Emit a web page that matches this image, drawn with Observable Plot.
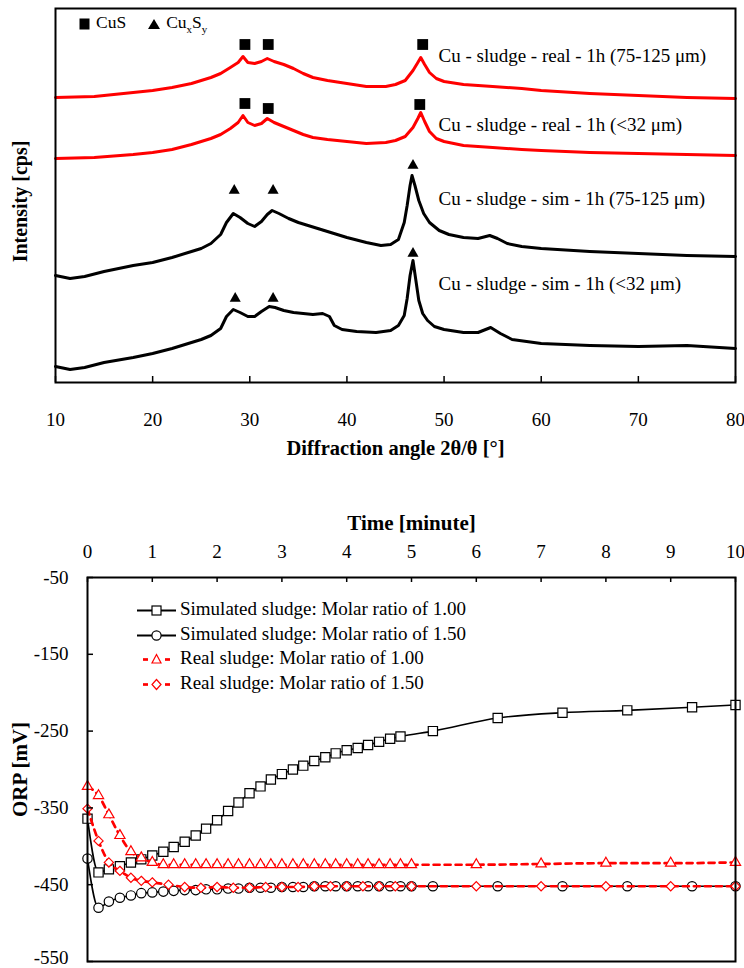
<!DOCTYPE html>
<html><head><meta charset="utf-8">
<script src="https://cdn.jsdelivr.net/npm/d3@7"></script>
<script src="https://cdn.jsdelivr.net/npm/@observablehq/plot@0.6"></script>
<style>
html,body{margin:0;padding:0;background:#fff;overflow:hidden;font-family:'Liberation Serif';}
#wrap{position:relative;width:744px;height:968px;font-family:'Liberation Serif';color:#000;}
#xrd{position:absolute;left:0;top:0;}
#orp{position:absolute;left:0;top:495px;}
.lg{position:absolute;white-space:nowrap;font-family:'Liberation Serif';}
.lg svg{vertical-align:middle;}
svg text{font-family:'Liberation Serif';}
</style></head><body>
<div id="wrap">
  <div id="xrd"></div>
  <div id="orp"></div>
  <div class="lg" id="xrdLegend" style="left:79px;top:12px;font-size:17.5px"></div>
  <div class="lg" id="orpLegend" style="left:137px;top:597px;font-size:19px"></div>
</div>
<script>
// ---------------- XRD data (intensity in arbitrary, offset units) ----------------
const xrdTicks = [10, 20, 30, 40, 50, 60, 70, 80];
const xrdSeriesNames = [
  "Cu - sludge - real - 1h (75-125 \u03bcm)",
  "Cu - sludge - real - 1h (<32 \u03bcm)",
  "Cu - sludge - sim - 1h (75-125 \u03bcm)",
  "Cu - sludge - sim - 1h (<32 \u03bcm)"
];
const realAngle = [10,14,18,20,22,24,25,26,27,28,28.8,29.3,29.8,30.5,31.2,31.8,32.5,33.5,34.5,35.5,36.5,38,40,42,44,45,46,46.8,47.3,47.6,48,48.5,49.2,50,52,55,58,60,65,70,75,80];
const realCoarseCps = [285,286,290,292,295,299,302,305,309,315,320,326,320,319,321,324,321,318,314,309,305,302,299,296,296,298,302,312,320,325,318,310,304,301,298,296,294,292,289,287,285,284];
const realFineCps = [224,225,228,230,233,238,241,244,248,254,260,267,260,257,259,264,260,256,252,248,245,243,241,239,240,242,246,255,264,270,261,251,244,241,237,235,233,232,230,229,228,227];
const simCoarseAngle = [10,11.5,13,15,18,20,22,24,25,26,27,27.6,28.3,29,29.8,30.5,31.2,31.8,32.3,33,34,35,36,37,38,40,42,43.5,44.5,45.3,45.9,46.2,46.5,46.7,47,47.4,47.9,48.5,49.5,50.5,52,53.5,54.7,55.5,56.5,58,60,65,70,75,80];
const simCoarseCps = [107,104,106,111,117,120,125,131,134,139,148,160,169,165,159,156,161,168,172,169,164,160,157,154,151,145,140,137,138,143,160,177,197,207,197,182,169,160,152,148,145,144,147,144,139,136,134,131,129,127,126];
const simFineAngle = [10,11.5,13,15,18,20,22,24,25,26,27,27.6,28.3,29,29.8,30.5,31.2,32,32.6,33.5,34.5,35.5,36.5,37.5,38.2,38.7,39.5,41,43,44.5,45.3,45.9,46.2,46.5,46.8,47.1,47.4,47.8,48.3,49,50,52,53.5,54.8,55.8,57,60,65,70,75,80];
const simFineCps = [16,13,15,20,25,29,34,40,43,47,54,66,73,70,66,66,71,76,75,72,70,69,68,69,66,57,53,51,50,52,57,67,84,107,122,102,82,69,62,56,53,50,50,55,49,43,39,37,36,37,34];
// phase markers
const cusAngle = [29.5, 31.9, 47.8, 29.5, 31.9, 47.5];
const cusLevel = [338, 338, 338, 279, 274, 278];
const cuxsyAngle = [28.4, 32.4, 46.8, 28.5, 32.4, 46.8];
const cuxsyLevel = [192, 192, 217, 84, 84, 129];

// ---------------- ORP data ----------------
const timeTicks = [0,1,2,3,4,5,6,7,8,9,10];
const orpTicks = [-50,-150,-250,-350,-450,-550];
const orpLegendLabels = [
  "Simulated sludge: Molar ratio of 1.00",
  "Simulated sludge: Molar ratio of 1.50",
  "Real sludge: Molar ratio of 1.00",
  "Real sludge: Molar ratio of 1.50"
];
const sqTime = [0,0.17,0.33,0.5,0.67,0.83,1,1.17,1.33,1.5,1.67,1.83,2,2.17,2.33,2.5,2.67,2.83,3,3.17,3.33,3.5,3.67,3.83,4,4.17,4.33,4.5,4.67,4.83,5.33,6.33,7.33,8.33,9.33,10];
const sqORP = [-364,-434,-430,-426,-421,-417,-412,-407,-401,-394,-386,-377,-366,-354,-343,-331,-322,-313,-306,-300,-295,-289,-284,-279,-275,-272,-268,-264,-260,-257,-250,-233,-226,-223,-219,-216];
const ciTime = [0,0.17,0.33,0.5,0.67,0.83,1,1.17,1.33,1.5,1.67,1.83,2,2.17,2.33,2.5,2.67,2.83,3,3.17,3.33,3.5,3.67,3.83,4,4.17,4.33,4.5,4.67,4.83,5,5.33,6.33,7.33,8.33,9.33,10];
const ciORP = [-416,-480,-472,-467,-464,-461,-460,-459,-458,-457,-457,-456,-456,-455,-455,-454,-454,-454,-453,-453,-453,-452,-452,-452,-452,-452,-452,-452,-452,-452,-452,-452,-452,-452,-452,-452,-452];
const trTime = [0,0.17,0.33,0.5,0.67,0.83,1,1.17,1.33,1.5,1.67,1.83,2,2.17,2.33,2.5,2.67,2.83,3,3.17,3.33,3.5,3.67,3.83,4,4.17,4.33,4.5,4.67,4.83,5,6,7,8,9,10];
const trORP = [-322,-334,-359,-386,-407,-415,-421,-424,-424,-424,-424,-424,-424,-424,-424,-424,-424,-424,-424,-424,-424,-424,-424,-424,-424,-424,-424,-424,-424,-424,-424,-424,-423,-422,-422,-421];
const diTime = [0,0.17,0.33,0.5,0.67,0.83,1,1.25,1.5,1.75,2,2.25,2.5,2.75,3,3.25,3.5,3.75,4,4.25,4.5,4.75,5,6,7,8,9,10];
const diORP = [-351,-393,-421,-432,-441,-445,-447,-450,-453,-454,-453,-454,-454,-453,-453,-453,-452,-452,-452,-452,-452,-452,-452,-452,-452,-452,-452,-452];

// ---------------- helpers ----------------
const FONT = "'Liberation Serif'";
const RED = "#ff0000";
const zip = (xs, ys, kx, ky) => xs.map((x, i) => ({[kx]: x, [ky]: ys[i]}));
const diamond = {draw(ctx, size) { const r = Math.sqrt(size / Math.PI); ctx.moveTo(0, -r); ctx.lineTo(r, 0); ctx.lineTo(0, r); ctx.lineTo(-r, 0); ctx.closePath(); }};

// ---------------- chart 1: XRD ----------------
const xrdRows = [
  {c: RED, d: zip(realAngle, realCoarseCps, "a", "v")},
  {c: RED, d: zip(realAngle, realFineCps, "a", "v")},
  {c: "#000", d: zip(simCoarseAngle, simCoarseCps, "a", "v")},
  {c: "#000", d: zip(simFineAngle, simFineCps, "a", "v")}
];
const labelDy = [47, 116, 190, 275];
const xrd = Plot.plot({
  width: 744, height: 470,
  marginLeft: 55, marginRight: 9, marginTop: 8, marginBottom: 88,
  style: {fontFamily: FONT, fontSize: "19px", color: "#000", background: "transparent", overflow: "visible"},
  x: {domain: [10, 80]},
  y: {domain: [0, 374], axis: null},
  marks: [
    ...xrdRows.map(s => Plot.line(s.d, {x: "a", y: "v", stroke: s.c, strokeWidth: 3, curve: "linear"})),
    Plot.dot(zip(cusAngle, cusLevel, "a", "v"), {x: "a", y: "v", symbol: "square", r: 6.1, fill: "#000", stroke: "none"}),
    Plot.dot(zip(cuxsyAngle, cuxsyLevel, "a", "v"), {x: "a", y: "v", symbol: "triangle", r: 4.1, fill: "#000", stroke: "none"}),
    ...xrdSeriesNames.map((n, i) => Plot.text([n], {frameAnchor: "top-left", dx: 383, dy: labelDy[i], textAnchor: "start", lineAnchor: "middle", fontSize: 19})),
    Plot.tickX(xrdTicks, {x: d => d, insetTop: 368, strokeWidth: 1.5}),
    Plot.frame({strokeWidth: 2}),
    Plot.axisX({ticks: xrdTicks, tickSize: 0, tickPadding: 30, fontSize: 19, tickFormat: d => String(d), label: null}),
    Plot.text(["Diffraction angle 2\u03b8/\u03b8 [\u00b0]"], {frameAnchor: "bottom", dy: 66, lineAnchor: "middle", fontWeight: "bold", fontSize: 20.5}),
    Plot.text(["Intensity [cps]"], {frameAnchor: "left", dx: -35, dy: 6, rotate: -90, textAnchor: "middle", lineAnchor: "middle", fontWeight: "bold", fontSize: 20})
  ]
});
document.getElementById("xrd").append(xrd);

// ---------------- chart 2: ORP ----------------
const orpSeries = [
  {d: zip(sqTime, sqORP, "t", "v"), stroke: "#000", dash: null, sw: 1.6, symbol: "square", r: 5.2, ms: "#000"},
  {d: zip(ciTime, ciORP, "t", "v"), stroke: "#000", dash: null, sw: 1.6, symbol: "circle", r: 4.7, ms: "#000"},
  {d: zip(trTime, trORP, "t", "v"), stroke: RED, dash: "6,5", sw: 2.7, symbol: "triangle", r: 3.8, ms: RED},
  {d: zip(diTime, diORP, "t", "v"), stroke: RED, dash: "6,5", sw: 2.7, symbol: diamond, r: 4.6, ms: RED}
];
const orp = Plot.plot({
  width: 744, height: 478,
  marginLeft: 87, marginRight: 9, marginTop: 82, marginBottom: 12,
  style: {fontFamily: FONT, fontSize: "19px", color: "#000", background: "transparent", overflow: "visible"},
  x: {domain: [0, 10]},
  y: {domain: [-550, -50]},
  marks: [
    ...orpSeries.flatMap(s => [
      Plot.line(s.d, {x: "t", y: "v", stroke: s.stroke, strokeWidth: s.sw, strokeDasharray: s.dash, curve: "monotone-x"}),
      Plot.dot(s.d, {x: "t", y: "v", symbol: s.symbol, r: s.r, fill: "#fff", stroke: s.ms, strokeWidth: 1.2})
    ]),
    Plot.tickX(timeTicks, {x: d => d, insetBottom: 379, strokeWidth: 1.5}),
    Plot.tickY(orpTicks, {y: d => d, insetRight: 642, strokeWidth: 1.5}),
    Plot.frame({strokeWidth: 2}),
    Plot.axisX({anchor: "top", ticks: timeTicks, tickSize: 0, tickPadding: 20, fontSize: 19, tickFormat: d => String(d), label: null}),
    Plot.axisY({anchor: "left", ticks: orpTicks.slice(0, -1), tickSize: 0, tickPadding: 19, fontSize: 19, tickFormat: d => String(d), label: null}),
    Plot.axisY({anchor: "left", ticks: orpTicks.slice(-1), tickSize: 0, tickPadding: 19, dy: -4, fontSize: 19, tickFormat: d => String(d), label: null}),
    Plot.text(["Time [minute]"], {frameAnchor: "top", dy: -54, lineAnchor: "middle", fontWeight: "bold", fontSize: 21}),
    Plot.text(["ORP [mV]"], {frameAnchor: "left", dx: -67, rotate: -90, textAnchor: "middle", lineAnchor: "middle", fontWeight: "bold", fontSize: 21})
  ]
});
document.getElementById("orp").append(orp);

// ---------------- legends (HTML overlays) ----------------
document.getElementById("xrdLegend").innerHTML =
  '<svg width="11" height="12"><rect x="0.5" y="0.5" width="10" height="11" fill="#000"/></svg>' +
  '<span style="margin-left:6px">CuS</span>' +
  '<svg width="12" height="10" style="margin-left:22px"><path d="M6,0 L12,10 L0,10 Z" fill="#000"/></svg>' +
  '<span style="margin-left:6px">Cu<sub style="font-size:11px">x</sub>S<sub style="font-size:11px">y</sub></span>';

const swatch = (s) => {
  const mark = s.symbol === "square" ? '<rect x="15" y="3" width="9" height="9" fill="#fff" stroke="' + s.ms + '" stroke-width="1.2"/>'
    : s.symbol === "circle" ? '<circle cx="19.5" cy="7.5" r="4.6" fill="#fff" stroke="' + s.ms + '" stroke-width="1.2"/>'
    : s.symbol === "triangle" ? '<path d="M19.5,2.5 L24,11 L15,11 Z" fill="#fff" stroke="' + s.ms + '" stroke-width="1.2"/>'
    : '<path d="M19.5,2.5 L24,7.5 L19.5,12.5 L15,7.5 Z" fill="#fff" stroke="' + s.ms + '" stroke-width="1.2"/>';
  const line = s.dash
    ? '<line x1="6" y1="7.5" x2="11" y2="7.5" stroke="' + s.stroke + '" stroke-width="2.7"/><line x1="28" y1="7.5" x2="33" y2="7.5" stroke="' + s.stroke + '" stroke-width="2.7"/>'
    : '<line x1="0" y1="7.5" x2="39" y2="7.5" stroke="' + s.stroke + '" stroke-width="2"/>';
  return '<svg width="39" height="15">' + line + mark + '</svg>';
};
document.getElementById("orpLegend").innerHTML = orpLegendLabels.map((lab, i) =>
  '<div style="height:24.6px;line-height:24.6px">' + swatch(orpSeries[i]) + '<span style="margin-left:4px">' + lab + '</span></div>'
).join("");
</script>
</body></html>
